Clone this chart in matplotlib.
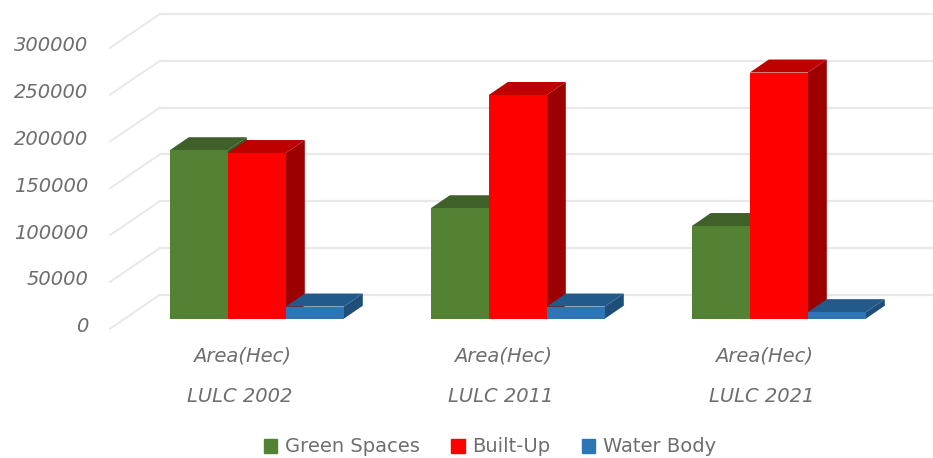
import matplotlib.pyplot as plt
import matplotlib.patches as mpatches

plt.rcParams['font.family'] = ['DejaVu Sans']

###############################################
### Data

years = ['LULC 2002', 'LULC 2011', 'LULC 2021']
area_label = 'Area(Hec)'
green = [180000, 118000, 99000]
built = [177000, 239000, 263000]
water = [13000, 13000, 7000]
y_ticks = [0, 50000, 100000, 150000, 200000, 250000, 300000]

###############################################
### Drawing space

W, H = 933, 458
fig = plt.figure(figsize=(W / 100, H / 100), dpi=100)
ax = fig.add_axes([0, 0, 1, 1])
ax.axis('off')

group_px = 261.0     # px between groups
first_px = 256.8     # px of the first group centre
base_px = 318.7      # px of value 0 at the bar front
tick_px = 46.8       # px for one 50000

ax.set_xlim(-first_px / group_px, (W - first_px) / group_px)
ax.set_ylim(-(H - base_px) / tick_px * 50000, base_px / tick_px * 50000)


def px_x(n):
    return n / group_px


def px_y(n):
    return n / tick_px * 50000


###############################################
### Walls

grid_col = '#e8e8e8'
wall_left = px_x(160 - first_px)
wall_lift = px_y(24)
for v in y_ticks:
    y = v + wall_lift
    ax.plot([wall_left, px_x(W - first_px)], [y, y], color=grid_col, lw=1.6, zorder=1)
    ax.plot([wall_left, wall_left - px_x(50)], [y, y - px_y(34)], color=grid_col, lw=1.4, zorder=1)

###############################################
### Bars

bar_w = px_x(58)
depth_x = px_x(19)
depth_y = px_y(13)

series = [
    (green, -1, '#548235', '#3f6129', '#385723'),
    (built, 0, '#ff0000', '#bf0000', '#9c0000'),
    (water, 1, '#2e75b6', '#225a8c', '#1f4e79'),
]

z = 2
for i in range(len(years)):
    for values, pos, front, top, side in series:
        v = values[i]
        left = i + pos * bar_w - bar_w / 2
        right = left + bar_w
        ax.fill([right, right + depth_x, right + depth_x, right],
                [0, depth_y, v + depth_y, v], color=side, lw=0, zorder=z)
        ax.fill([left, right, right + depth_x, left + depth_x],
                [v, v, v + depth_y, v + depth_y], color=top, lw=0, zorder=z)
        ax.bar(i + pos * bar_w, v, width=bar_w, color=front, lw=0, zorder=z)
        z += 1

###############################################
### Notes

txt_col = '#6e6e6e'
for v in y_ticks:
    ax.annotate(str(v), xy=(px_x(88 - first_px), v), xytext=(0, -8), textcoords='offset pixels',
                ha='right', va='center', style='italic', fontsize=14, color=txt_col)

for i, name in enumerate(years):
    ax.annotate(area_label, xy=(i, 0), xytext=(-15, -37), textcoords='offset pixels',
                ha='center', va='center', style='italic', fontsize=14, color=txt_col)
    ax.annotate(name, xy=(i, 0), xytext=(-17, -78), textcoords='offset pixels',
                ha='center', va='center', style='italic', fontsize=14, color=txt_col)

handles = [mpatches.Patch(color='#548235', label='Green Spaces'),
           mpatches.Patch(color='#ff0000', label='Built-Up'),
           mpatches.Patch(color='#2e75b6', label='Water Body')]
leg = ax.legend(handles=handles, loc='center', bbox_to_anchor=(490 / W, 1 - 447 / H), ncol=3,
                frameon=False, fontsize=14, labelcolor=txt_col, handlelength=0.7, handleheight=0.7,
                handletextpad=0.4, columnspacing=1.6)

###############################################
### Print

plt.savefig('out.png', dpi=100)
